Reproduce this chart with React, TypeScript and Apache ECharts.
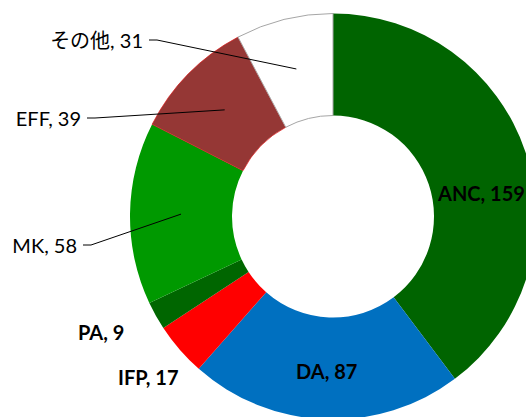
import React, { useEffect, useRef } from "react";
import * as echarts from "echarts";

const categories = ["ANC", "DA", "IFP", "PA", "MK", "EFF", "その他"];
const values = [159, 87, 17, 9, 58, 39, 31];
const colors = ["#006400", "#0070C0", "#FF0000", "#006600", "#009900", "#953735", "#FFFFFF"];
const boldLabel = [true, true, true, true, false, false, false];
const hasLeader = [false, false, false, false, true, true, true];

// layout (pixels): label anchor x, y, alignment
const labelPos: [number, number, "left" | "right"][] = [
  [438, 193, "left"],
  [296, 371, "left"],
  [118, 377, "left"],
  [78, 332, "left"],
  [77, 245, "right"],
  [81, 118, "right"],
  [143, 40, "right"],
];

const W = 526;
const H = 417;
const CX = 333;
const CY = 216.5;
const R_IN = 101;
const R_OUT = 203;
const FONT = "Lato, 'Noto Sans CJK JP', sans-serif";

export default function App() {
  const ref = useRef<HTMLDivElement>(null);
  useEffect(() => {
    if (!ref.current) return;
    const chart = echarts.init(ref.current, undefined, { renderer: "svg" });
    const total = values.reduce((a, b) => a + b, 0);
    const rMid = (R_IN + R_OUT) / 2;
    const leaders: any[] = [];
    let cum = 0;
    values.forEach((v, i) => {
      const midDeg = ((cum + v / 2) / total) * 360;
      cum += v;
      if (!hasLeader[i]) return;
      const rad = (midDeg * Math.PI) / 180;
      const ax = CX + rMid * Math.sin(rad);
      const ay = CY - rMid * Math.cos(rad);
      const [lx, ly] = labelPos[i];
      leaders.push({
        type: "polyline",
        silent: true,
        z: 100,
        shape: { points: [[lx + 6, ly], [lx + 14, ly], [ax, ay]] },
        style: { stroke: "#000", lineWidth: 1, fill: "none" },
      });
    });
    const data = categories.map((name, i) => ({
      name,
      value: values[i],
      itemStyle: {
        color: colors[i],
        borderColor: i === 6 ? "#A6A6A6" : i === 5 ? "rgba(220,30,30,0.7)" : colors[i],
        borderWidth: i === 6 || i === 5 ? 1 : 0,
      },
      label: {
        fontWeight: boldLabel[i] ? "bold" : "normal",
      },
    }));
    chart.setOption({
      animation: false,
      graphic: leaders,
      series: [
        {
          type: "pie",
          center: [CX, CY],
          radius: [R_IN, R_OUT],
          startAngle: 90,
          clockwise: true,
          avoidLabelOverlap: false,
          silent: true,
          label: {
            show: true,
            position: "inside",
            formatter: "{b}, {c}",
            fontFamily: FONT,
            fontSize: 20,
            color: "#000",
          },
          labelLine: { show: false },
          labelLayout: (params: any) => {
            const p = labelPos[params.dataIndex];
            return { x: p[0], y: p[1], align: p[2], verticalAlign: "middle" };
          },
          data,
        },
      ],
    });
    return () => chart.dispose();
  }, []);
  return (
    <div
      ref={ref}
      style={{ position: "fixed", left: 0, top: 0, width: W, height: H, background: "#fff" }}
    />
  );
}
